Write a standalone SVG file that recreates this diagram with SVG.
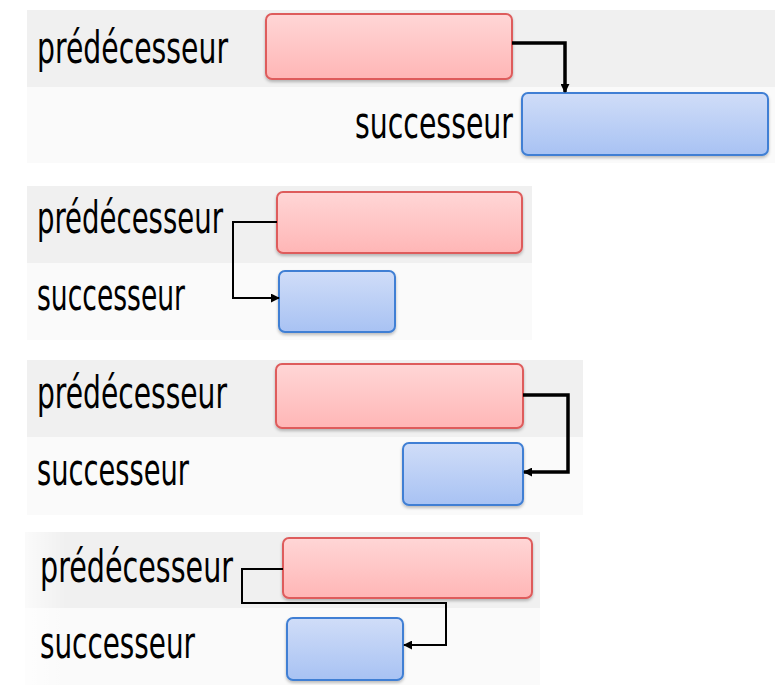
<svg xmlns="http://www.w3.org/2000/svg" width="783" height="685" viewBox="0 0 783 685">
<defs>
<linearGradient id="gPred" x1="0" y1="0" x2="0" y2="1">
<stop offset="0" stop-color="#ffd6d6"/>
<stop offset="1" stop-color="#ffb6b6"/>
</linearGradient>
<linearGradient id="gSucc" x1="0" y1="0" x2="0" y2="1">
<stop offset="0" stop-color="#d0ddf8"/>
<stop offset="1" stop-color="#a8c2f3"/>
</linearGradient>
<linearGradient id="gFade" x1="0" y1="0" x2="1" y2="0">
<stop offset="0" stop-color="#ffffff" stop-opacity="0.7"/>
<stop offset="0.08" stop-color="#ffffff" stop-opacity="0"/>
</linearGradient>
<filter id="sh" x="-10%" y="-20%" width="120%" height="150%">
<feDropShadow dx="0" dy="2" stdDeviation="1.5" flood-color="#000" flood-opacity="0.25"/>
</filter>
<marker id="ah" viewBox="0 0 10 10" refX="9" refY="5" markerWidth="9" markerHeight="9" markerUnits="userSpaceOnUse" orient="auto">
<path d="M0,0 L10,5 L0,10 z" fill="#000"/>
</marker>
</defs>
<style>
.band{fill:#f0f0f0}
.lband{fill:#fafafa}
.pred{fill:url(#gPred);stroke:#de5c5c;stroke-width:2;filter:url(#sh)}
.succ{fill:url(#gSucc);stroke:#3f7fd4;stroke-width:2;filter:url(#sh)}
.lbl{font-family:"Liberation Sans Narrow","DejaVu Sans Condensed","Liberation Sans",sans-serif;font-size:44px;fill:#000}
.thick{fill:none;stroke:#000;stroke-width:3.5;marker-end:url(#ah)}
.thin{fill:none;stroke:#000;stroke-width:2;marker-end:url(#ah)}
</style>
<rect width="783" height="685" fill="#ffffff"/>
<g id="bands">
<rect class="band" x="27" y="10" width="748" height="77"/>
<rect class="lband" x="27" y="87" width="748" height="76"/>
<rect class="band" x="27" y="186" width="505" height="77"/>
<rect class="lband" x="27" y="263" width="505" height="77"/>
<rect class="band" x="27" y="360" width="556" height="77"/>
<rect class="lband" x="27" y="437" width="556" height="78"/>
<rect class="band" x="25" y="532" width="515" height="76"/>
<rect class="lband" x="25" y="608" width="515" height="77"/>
<rect x="25" y="532" width="515" height="153" fill="url(#gFade)"/>
</g>
<g id="p1-pred">
<rect class="pred" x="266" y="14" width="246" height="65" rx="6"/>
<text class="lbl" x="37" y="63" textLength="191" lengthAdjust="spacingAndGlyphs">prédécesseur</text>
</g>
<g id="p1-succ">
<rect class="succ" x="522" y="93" width="246" height="62" rx="6"/>
<text class="lbl" x="355" y="138" textLength="158" lengthAdjust="spacingAndGlyphs">successeur</text>
</g>
<g id="p2-pred">
<rect class="pred" x="277" y="192" width="245" height="61" rx="6"/>
<text class="lbl" x="37" y="233" textLength="186" lengthAdjust="spacingAndGlyphs">prédécesseur</text>
</g>
<g id="p2-succ">
<rect class="succ" x="279" y="271" width="116" height="61" rx="6"/>
<text class="lbl" x="37" y="310" textLength="148" lengthAdjust="spacingAndGlyphs">successeur</text>
</g>
<g id="p3-pred">
<rect class="pred" x="276" y="364" width="247" height="64" rx="6"/>
<text class="lbl" x="37" y="408" textLength="190" lengthAdjust="spacingAndGlyphs">prédécesseur</text>
</g>
<g id="p3-succ">
<rect class="succ" x="403" y="443" width="120" height="62" rx="6"/>
<text class="lbl" x="37" y="485" textLength="152" lengthAdjust="spacingAndGlyphs">successeur</text>
</g>
<g id="p4-pred">
<rect class="pred" x="283" y="538" width="249" height="60" rx="6"/>
<text class="lbl" x="40" y="582" textLength="193" lengthAdjust="spacingAndGlyphs">prédécesseur</text>
</g>
<g id="p4-succ">
<rect class="succ" x="287" y="618" width="116" height="62" rx="6"/>
<text class="lbl" x="40" y="658" textLength="155" lengthAdjust="spacingAndGlyphs">successeur</text>
</g>
<g id="connectors">
<path class="thick" d="M512,43 H565 V92"/>
<path class="thin" d="M277,222 H233 V298 H279"/>
<path class="thick" d="M523,395 H568 V472 H524"/>
<path class="thin" d="M283,569 H242 V603 H446 V645 H404"/>
</g>
</svg>
